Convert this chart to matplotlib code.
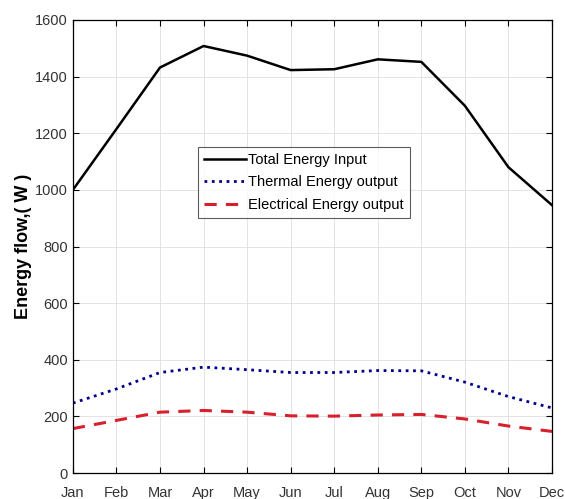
import numpy as np
import matplotlib
matplotlib.use("Agg")
import matplotlib.pyplot as plt

plt.rcParams["font.family"] = ["Liberation Sans", "DejaVu Sans"]

MONTHS = ["Jan", "Feb", "Mar", "Apr", "May", "Jun", "Jul", "Aug", "Sep", "Oct", "Nov", "Dec"]
TOTAL_INPUT = [1000, 1215, 1432, 1508, 1474, 1423, 1426, 1461, 1452, 1297, 1080, 946]
THERMAL_OUT = [247, 297, 355, 374, 365, 355, 355, 362, 361, 321, 270, 230]
ELECTRICAL_OUT = [157, 186, 215, 221, 215, 202, 201, 205, 207, 191, 166, 147]
Y_TICKS = [0, 200, 400, 600, 800, 1000, 1200, 1400, 1600]

fig = plt.figure(figsize=(5.65, 4.99), dpi=100)
ax = fig.add_axes([0.129, 0.052, 0.848, 0.908])

x = np.arange(len(MONTHS))
ax.plot(x, TOTAL_INPUT, color="black", lw=1.8, ls="-", label="Total Energy Input")
ax.plot(x, THERMAL_OUT, color="#00008b", lw=2.0, ls=":", label="Thermal Energy output")
ax.plot(x, ELECTRICAL_OUT, color="#d8202c", lw=2.2, ls=(0, (4, 3)), label="Electrical Energy output")

ax.set_xlim(0, len(MONTHS) - 1)
ax.set_ylim(0, 1600)
ax.set_xticks(x)
ax.set_xticklabels(MONTHS)
ax.set_yticks(Y_TICKS)
ax.tick_params(direction="in", top=True, right=True, labelsize=10.5,
               labelcolor="#333333", length=4, width=0.8)
ax.tick_params(axis="x", pad=9)
ax.grid(True, color="#dedede", lw=0.6)
ax.set_axisbelow(True)
for sp in ax.spines.values():
    sp.set_linewidth(0.9)

ax.set_ylabel("Energy flow,( W )", fontsize=13, fontweight="bold", labelpad=2)

leg = ax.legend(loc="upper left", bbox_to_anchor=(0.261, 0.72), fontsize=10.5,
                frameon=True, fancybox=False, edgecolor="#333333",
                handlelength=2.9, handletextpad=0.15, borderpad=0.4,
                labelspacing=0.6, borderaxespad=0)
leg.get_frame().set_linewidth(0.8)

fig.savefig("out.png", dpi=100)
